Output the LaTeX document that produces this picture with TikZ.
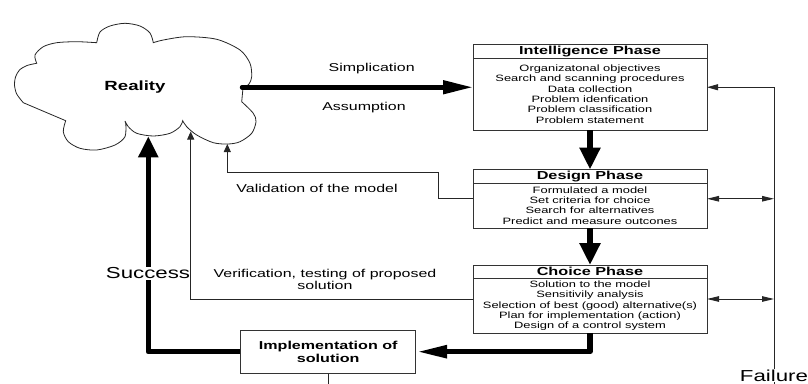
\documentclass[tikz,border=0pt]{standalone}
\usepackage{fontspec}
\setmainfont{Liberation Sans}[FakeStretch=1.4]
\usetikzlibrary{arrows.meta,fit}

\begin{document}
\begin{tikzpicture}[x=1pt,y=-1pt,
  boxline/.style={draw=black!80, line width=0.9pt},
  phasehead/.style={boxline, minimum width=234pt, minimum height=13.5pt, inner sep=0pt, outer sep=0pt,
    anchor=north west, font=\fontsize{11.6}{12}\selectfont\bfseries},
  phasebody/.style={boxline, minimum width=234pt, inner sep=0pt, outer sep=0pt,
    anchor=north, align=center, font=\fontsize{9.2}{10.4}\selectfont},
  phasebox/.style={inner sep=0pt, outer sep=0pt},
  flowlabel/.style={font=\fontsize{11.4}{12.4}\selectfont, align=center, inner sep=1pt},
  biglabel/.style={font=\fontsize{15.9}{16}\selectfont, fill=white, inner xsep=0pt, inner ysep=1pt},
  link/.style={draw=black!85, line width=0.9pt},
  smalltip/.style={-{Triangle[length=11pt,width=6pt]}},
  cloudtip/.style={-{Triangle[length=8pt,width=7pt]}}
]
\useasboundingbox (0,0) rectangle (808,383);

% the Reality cloud, one smooth arc per lobe
\draw[line width=0.8pt, draw=black!85, fill=white]
  plot[smooth] coordinates {(36.7,63.3) (35,55) (43.3,46.7) (56.7,42.7) (76.7,41.7) (96.7,42.7)}
  -- plot[smooth] coordinates {(96.7,42.7) (100,32) (110,26) (125,23.3) (140,26) (150,33) (153.3,42.7)}
  -- plot[smooth] coordinates {(153.3,42.7) (163.3,40) (186.7,36.7) (216.7,39.3) (240,50) (250,63.3) (251.7,76.7) (249,84) (243,88)}
  -- (241.7,101.7)
  -- plot[smooth] coordinates {(241.7,101.7) (253.3,113.3) (256,121.7) (251.7,133.3) (240,141.7) (228.3,144) (213.3,142.7) (196.7,135) (186.7,126.7) (182.7,120.7)}
  -- plot[smooth] coordinates {(182.7,120.7) (180,126.7) (170,133.3) (153.3,136) (136.7,133.3) (128.3,126.7) (125,121)}
  -- plot[smooth] coordinates {(125.8,124) (125,136.7) (115,145) (96.7,150) (80,148.3) (68.3,141.7) (63.3,131.7) (65.7,120.7)}
  -- plot[smooth] coordinates {(23.3,102.7) (16.7,94) (14.5,85) (15.5,77) (19.5,70) (27,65.5) (36.7,63.3)}
  -- cycle;
\node[font=\fontsize{13.3}{14}\selectfont\bfseries] (reality) at (135,86.7) {Reality};

% anchor points on the cloud and the feedback rail
\coordinate (cloudEast) at (242,87.25);
\coordinate (cloudFoot) at (148.3,136.3);
\coordinate (cloudVer) at (190.7,131.5);
\coordinate (cloudVal) at (227.3,144);
\coordinate (valBend) at (438.3,172.5);
\coordinate (railTop) at (774,87.25);
\coordinate (railEnd) at (774,392);

% Intelligence phase
\node[phasehead] (ih) at (473,44.5) {Intelligence Phase};
\node[phasebody, minimum height=72pt] (ib) at (ih.south) {Organizatonal objectives\\Search and scanning procedures\\Data collection\\Problem idenfication\\Problem classification\\Problem statement};
\node[phasebox, fit=(ih)(ib)] (intel) {};

% Design phase
\node[phasehead] (dh) at (473,169.5) {Design Phase};
\node[phasebody, minimum height=45pt] (db) at (dh.south) {Formulated a model\\Set criteria for choice\\Search for alternatives\\Predict and measure outcones};
\node[phasebox, fit=(dh)(db)] (design) {};

% Choice phase
\node[phasehead] (chh) at (473,265) {Choice Phase};
\node[phasebody, minimum height=54.5pt] (chb) at (chh.south) {Solution to the model\\Sensitivily analysis\\Selection of best (good) alternative(s)\\Plan for implementation (action)\\Design of a control system};
\node[phasebox, fit=(chh)(chb)] (choice) {};

% Implementation
\node[boxline, minimum width=175pt, minimum height=43pt, inner sep=0pt, align=center,
  font=\fontsize{11.5}{12.7}\selectfont\bfseries] (impl) at (328.2,351.7) {Implementation of\\solution};

% main flow
\draw[line width=4.5pt, line cap=round, -{Triangle[length=30pt,width=13pt]}] (cloudEast) -- (intel.west);
\draw[line width=6.5pt, -{Triangle[length=22pt,width=20pt]}] (intel.south) -- (design.north);
\draw[line width=6.5pt, -{Triangle[length=22pt,width=20pt]}] (design.south) -- (choice.north);
\draw[line width=5.5pt, line join=round, -{Triangle[length=31pt,width=12pt]}] (choice.south) |- (impl.east);
\draw[line width=5.5pt, line join=round, -{Triangle[length=21pt,width=19pt]}] (impl.west) -| (cloudFoot);
\node[biglabel] (success) at (148,273.5) {Success};

% model checks back to reality
\draw[link, cloudtip] (choice.west) -| (cloudVer);
\draw[link, cloudtip] (design.west) -| (valBend) -| (cloudVal);
\draw[link] (impl.south) -- ++(0,14);

% failure rail
\draw[link] (railTop) -- (railEnd);
\draw[link, smalltip] (railTop) -- (intel.east);
\draw[link, {Triangle[length=12pt,width=5.5pt]}-{Triangle[length=12pt,width=5.5pt]}] (design.east) -- (design.east -| railTop);
\draw[link, {Triangle[length=12pt,width=5.5pt]}-{Triangle[length=12pt,width=5.5pt]}] (choice.east) -- (choice.east -| railTop);
\node[biglabel] (failure) at (774,375.5) {Failure};

% flow labels
\node[flowlabel] (simp) at (371.7,69) {Simplication};
\node[flowlabel] (assum) at (364,107.7) {Assumption};
\node[flowlabel] (valid) at (317,188.3) {Validation of the model};
\node[flowlabel] (verif) at (325,279.5) {Verification, testing of proposed\\solution};
\end{tikzpicture}
\end{document}
